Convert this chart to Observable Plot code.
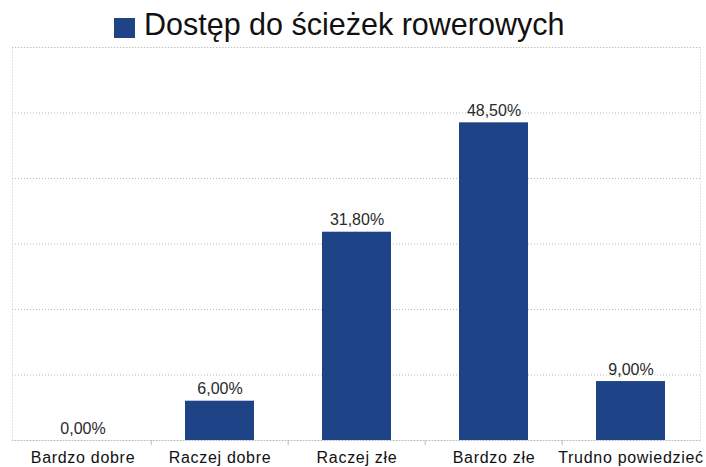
<!DOCTYPE html>
<html>
<head>
<meta charset="utf-8">
<script src="https://cdn.jsdelivr.net/npm/d3@7"></script>
<script src="https://cdn.jsdelivr.net/npm/@observablehq/plot@0.6"></script>
<style>
  body { margin: 0; background: #fff; font-family: "Liberation Sans", Arial, sans-serif; }
  #title { position: relative; width: 706px; height: 46px; }
  #title .sw { position: absolute; left: 114px; top: 18px; width: 21px; height: 20px; background: #1e4387; }
  #title .tx { position: absolute; left: 144px; top: 5px; font-size: 30.5px; color: #111; line-height: 38px; white-space: nowrap; }
</style>
</head>
<body>
<div id="title"><span class="sw"></span><span class="tx">Dostęp do ścieżek rowerowych</span></div>
<div id="chart"></div>
<script>
const categories = ["Bardzo dobre", "Raczej dobre", "Raczej złe", "Bardzo złe", "Trudno powiedzieć"];
const values = [0.0, 6.0, 31.8, 48.5, 9.0];
const valueLabels = ["0,00%", "6,00%", "31,80%", "48,50%", "9,00%"];
const yTicks = [0, 10, 20, 30, 40, 50, 60];

const data = categories.map((c, i) => ({category: c, value: values[i], label: valueLabels[i]}));

const W = 706, H = 421, mL = 12, mR = 6, mT = 1, mB = 27;
const halfStep = (W - mL - mR) / categories.length / 2;
const barColor = "#1e4387";

const chart = Plot.plot({
  width: W,
  height: H,
  marginLeft: mL,
  marginRight: mR,
  marginTop: mT,
  marginBottom: mB,
  style: {fontFamily: "Liberation Sans, Arial, sans-serif", background: "#fff"},
  x: {domain: categories, paddingInner: 0.5, paddingOuter: 0.25, align: 0.5, label: null},
  y: {domain: [0, 60], axis: null},
  marks: [
    Plot.ruleY(yTicks, {stroke: "#b8b8b8", strokeDasharray: "1,2", strokeWidth: 1}),
    Plot.frame({stroke: "#c8c8c8", strokeDasharray: "1,2"}),
    Plot.ruleX(categories.slice(1), {x: d => d, y1: 0, y2: -0.8, dx: -halfStep, stroke: "#bbb"}),
    Plot.barY(data, {x: "category", y: "value", fill: barColor}),
    Plot.text(data, {x: "category", y: "value", text: "label", lineAnchor: "bottom", dy: -7,
      fontSize: 16, fill: "#2a2a2a", style: "letter-spacing:0.3px"}),
    Plot.axisX({tickSize: 0, tickPadding: 11, fontSize: 16, color: "#111", label: null})
  ]
});
chart.querySelectorAll("[aria-label='x-axis tick label'] text, g[aria-label='x-axis tick label'] text").forEach(t => t.style.letterSpacing = "0.7px");
document.getElementById("chart").appendChild(chart);
</script>
</body>
</html>
